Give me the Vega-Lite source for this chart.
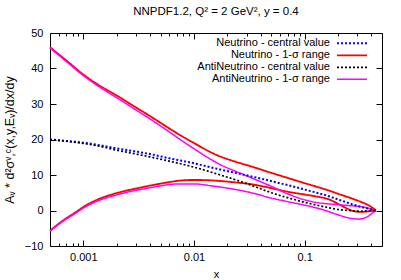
{
  "$schema": "https://vega.github.io/schema/vega-lite/v6.json",
  "width": 332,
  "height": 213,
  "autosize": {"type": "none"},
  "padding": {"left": 50, "top": 33, "right": 19, "bottom": 34},
  "background": "white",
  "config": {
    "font": "Liberation Sans",
    "view": {"stroke": "black", "strokeWidth": 1},
    "axis": {
      "labelFont": "Liberation Sans", "labelFontSize": 11, "labelColor": "black",
      "titleFont": "Liberation Sans", "titleFontSize": 11, "titleFontWeight": "normal", "titleColor": "black",
      "domain": false, "grid": false, "tickColor": "black", "tickWidth": 1
    },
    "legend": {
      "orient": "none", "legendX": 296.5, "legendY": 4.8, "padding": 0,
      "title": null, "symbolType": "M-3.33,0H3.33", "symbolSize": 81, "rowPadding": 0,
      "labelAlign": "right", "labelOffset": -27.5, "labelFont": "Liberation Sans", "labelFontSize": 11,
      "labelColor": "black", "labelLimit": 300
    }
  },
  "title": {"text": "NNPDF1.2, Q² = 2 GeV², y = 0.4", "font": "Liberation Sans", "fontSize": 11.5, "fontWeight": "normal", "color": "black", "offset": 10, "anchor": "middle"},
  "data": {"values": [
    {"x":0.0005,"v":46.0,"s":"Neutrino - 1-σ range","b":"upper"},
    {"x":0.0007,"v":42.3,"s":"Neutrino - 1-σ range","b":"upper"},
    {"x":0.001,"v":38.3,"s":"Neutrino - 1-σ range","b":"upper"},
    {"x":0.0014,"v":35.2,"s":"Neutrino - 1-σ range","b":"upper"},
    {"x":0.002,"v":32.4,"s":"Neutrino - 1-σ range","b":"upper"},
    {"x":0.003,"v":29.0,"s":"Neutrino - 1-σ range","b":"upper"},
    {"x":0.004,"v":26.6,"s":"Neutrino - 1-σ range","b":"upper"},
    {"x":0.006,"v":23.1,"s":"Neutrino - 1-σ range","b":"upper"},
    {"x":0.008,"v":20.7,"s":"Neutrino - 1-σ range","b":"upper"},
    {"x":0.01,"v":19.0,"s":"Neutrino - 1-σ range","b":"upper"},
    {"x":0.012,"v":17.6,"s":"Neutrino - 1-σ range","b":"upper"},
    {"x":0.014,"v":16.5,"s":"Neutrino - 1-σ range","b":"upper"},
    {"x":0.0173,"v":15.2,"s":"Neutrino - 1-σ range","b":"upper"},
    {"x":0.02,"v":14.5,"s":"Neutrino - 1-σ range","b":"upper"},
    {"x":0.024,"v":13.7,"s":"Neutrino - 1-σ range","b":"upper"},
    {"x":0.033,"v":12.4,"s":"Neutrino - 1-σ range","b":"upper"},
    {"x":0.05,"v":10.6,"s":"Neutrino - 1-σ range","b":"upper"},
    {"x":0.07,"v":9.2,"s":"Neutrino - 1-σ range","b":"upper"},
    {"x":0.1,"v":7.7,"s":"Neutrino - 1-σ range","b":"upper"},
    {"x":0.125,"v":6.8,"s":"Neutrino - 1-σ range","b":"upper"},
    {"x":0.17,"v":5.5,"s":"Neutrino - 1-σ range","b":"upper"},
    {"x":0.21,"v":4.5,"s":"Neutrino - 1-σ range","b":"upper"},
    {"x":0.25,"v":3.7,"s":"Neutrino - 1-σ range","b":"upper"},
    {"x":0.3,"v":2.8,"s":"Neutrino - 1-σ range","b":"upper"},
    {"x":0.355,"v":1.9,"s":"Neutrino - 1-σ range","b":"upper"},
    {"x":0.4,"v":1.0,"s":"Neutrino - 1-σ range","b":"upper"},
    {"x":0.44,"v":0.0,"s":"Neutrino - 1-σ range","b":"upper"},
    {"x":0.0005,"v":-5.7,"s":"Neutrino - 1-σ range","b":"lower"},
    {"x":0.0006,"v":-3.7,"s":"Neutrino - 1-σ range","b":"lower"},
    {"x":0.0007,"v":-2.2,"s":"Neutrino - 1-σ range","b":"lower"},
    {"x":0.00085,"v":-0.5,"s":"Neutrino - 1-σ range","b":"lower"},
    {"x":0.001,"v":1.0,"s":"Neutrino - 1-σ range","b":"lower"},
    {"x":0.0014,"v":3.3,"s":"Neutrino - 1-σ range","b":"lower"},
    {"x":0.002,"v":4.9,"s":"Neutrino - 1-σ range","b":"lower"},
    {"x":0.003,"v":6.2,"s":"Neutrino - 1-σ range","b":"lower"},
    {"x":0.004,"v":7.0,"s":"Neutrino - 1-σ range","b":"lower"},
    {"x":0.006,"v":8.0,"s":"Neutrino - 1-σ range","b":"lower"},
    {"x":0.0073,"v":8.4,"s":"Neutrino - 1-σ range","b":"lower"},
    {"x":0.01,"v":8.6,"s":"Neutrino - 1-σ range","b":"lower"},
    {"x":0.014,"v":8.5,"s":"Neutrino - 1-σ range","b":"lower"},
    {"x":0.0173,"v":8.3,"s":"Neutrino - 1-σ range","b":"lower"},
    {"x":0.024,"v":7.9,"s":"Neutrino - 1-σ range","b":"lower"},
    {"x":0.033,"v":7.4,"s":"Neutrino - 1-σ range","b":"lower"},
    {"x":0.05,"v":6.3,"s":"Neutrino - 1-σ range","b":"lower"},
    {"x":0.07,"v":5.3,"s":"Neutrino - 1-σ range","b":"lower"},
    {"x":0.1,"v":4.5,"s":"Neutrino - 1-σ range","b":"lower"},
    {"x":0.125,"v":4.0,"s":"Neutrino - 1-σ range","b":"lower"},
    {"x":0.17,"v":3.0,"s":"Neutrino - 1-σ range","b":"lower"},
    {"x":0.2,"v":1.9,"s":"Neutrino - 1-σ range","b":"lower"},
    {"x":0.23,"v":0.9,"s":"Neutrino - 1-σ range","b":"lower"},
    {"x":0.28,"v":-0.2,"s":"Neutrino - 1-σ range","b":"lower"},
    {"x":0.33,"v":-0.4,"s":"Neutrino - 1-σ range","b":"lower"},
    {"x":0.38,"v":-0.2,"s":"Neutrino - 1-σ range","b":"lower"},
    {"x":0.44,"v":0.0,"s":"Neutrino - 1-σ range","b":"lower"},
    {"x":0.0005,"v":45.8,"s":"AntiNeutrino - 1-σ range","b":"upper"},
    {"x":0.0007,"v":42.0,"s":"AntiNeutrino - 1-σ range","b":"upper"},
    {"x":0.001,"v":38.0,"s":"AntiNeutrino - 1-σ range","b":"upper"},
    {"x":0.0014,"v":34.8,"s":"AntiNeutrino - 1-σ range","b":"upper"},
    {"x":0.002,"v":31.8,"s":"AntiNeutrino - 1-σ range","b":"upper"},
    {"x":0.003,"v":28.3,"s":"AntiNeutrino - 1-σ range","b":"upper"},
    {"x":0.004,"v":25.8,"s":"AntiNeutrino - 1-σ range","b":"upper"},
    {"x":0.006,"v":22.1,"s":"AntiNeutrino - 1-σ range","b":"upper"},
    {"x":0.008,"v":19.4,"s":"AntiNeutrino - 1-σ range","b":"upper"},
    {"x":0.01,"v":17.4,"s":"AntiNeutrino - 1-σ range","b":"upper"},
    {"x":0.014,"v":14.5,"s":"AntiNeutrino - 1-σ range","b":"upper"},
    {"x":0.0173,"v":12.9,"s":"AntiNeutrino - 1-σ range","b":"upper"},
    {"x":0.024,"v":11.0,"s":"AntiNeutrino - 1-σ range","b":"upper"},
    {"x":0.033,"v":9.2,"s":"AntiNeutrino - 1-σ range","b":"upper"},
    {"x":0.04,"v":8.1,"s":"AntiNeutrino - 1-σ range","b":"upper"},
    {"x":0.05,"v":6.8,"s":"AntiNeutrino - 1-σ range","b":"upper"},
    {"x":0.07,"v":4.7,"s":"AntiNeutrino - 1-σ range","b":"upper"},
    {"x":0.1,"v":3.0,"s":"AntiNeutrino - 1-σ range","b":"upper"},
    {"x":0.125,"v":2.3,"s":"AntiNeutrino - 1-σ range","b":"upper"},
    {"x":0.154,"v":1.95,"s":"AntiNeutrino - 1-σ range","b":"upper"},
    {"x":0.2,"v":1.65,"s":"AntiNeutrino - 1-σ range","b":"upper"},
    {"x":0.25,"v":1.4,"s":"AntiNeutrino - 1-σ range","b":"upper"},
    {"x":0.3,"v":1.2,"s":"AntiNeutrino - 1-σ range","b":"upper"},
    {"x":0.36,"v":0.8,"s":"AntiNeutrino - 1-σ range","b":"upper"},
    {"x":0.4,"v":0.4,"s":"AntiNeutrino - 1-σ range","b":"upper"},
    {"x":0.44,"v":0.0,"s":"AntiNeutrino - 1-σ range","b":"upper"},
    {"x":0.0005,"v":-5.8,"s":"AntiNeutrino - 1-σ range","b":"lower"},
    {"x":0.0006,"v":-3.9,"s":"AntiNeutrino - 1-σ range","b":"lower"},
    {"x":0.0007,"v":-2.4,"s":"AntiNeutrino - 1-σ range","b":"lower"},
    {"x":0.00085,"v":-0.8,"s":"AntiNeutrino - 1-σ range","b":"lower"},
    {"x":0.001,"v":0.7,"s":"AntiNeutrino - 1-σ range","b":"lower"},
    {"x":0.0014,"v":2.9,"s":"AntiNeutrino - 1-σ range","b":"lower"},
    {"x":0.002,"v":4.4,"s":"AntiNeutrino - 1-σ range","b":"lower"},
    {"x":0.003,"v":5.7,"s":"AntiNeutrino - 1-σ range","b":"lower"},
    {"x":0.004,"v":6.4,"s":"AntiNeutrino - 1-σ range","b":"lower"},
    {"x":0.006,"v":7.3,"s":"AntiNeutrino - 1-σ range","b":"lower"},
    {"x":0.0073,"v":7.5,"s":"AntiNeutrino - 1-σ range","b":"lower"},
    {"x":0.01,"v":7.5,"s":"AntiNeutrino - 1-σ range","b":"lower"},
    {"x":0.014,"v":7.0,"s":"AntiNeutrino - 1-σ range","b":"lower"},
    {"x":0.0173,"v":6.6,"s":"AntiNeutrino - 1-σ range","b":"lower"},
    {"x":0.024,"v":5.9,"s":"AntiNeutrino - 1-σ range","b":"lower"},
    {"x":0.033,"v":5.0,"s":"AntiNeutrino - 1-σ range","b":"lower"},
    {"x":0.05,"v":3.5,"s":"AntiNeutrino - 1-σ range","b":"lower"},
    {"x":0.07,"v":2.5,"s":"AntiNeutrino - 1-σ range","b":"lower"},
    {"x":0.1,"v":1.5,"s":"AntiNeutrino - 1-σ range","b":"lower"},
    {"x":0.125,"v":0.8,"s":"AntiNeutrino - 1-σ range","b":"lower"},
    {"x":0.154,"v":0.0,"s":"AntiNeutrino - 1-σ range","b":"lower"},
    {"x":0.2,"v":-1.2,"s":"AntiNeutrino - 1-σ range","b":"lower"},
    {"x":0.25,"v":-2.1,"s":"AntiNeutrino - 1-σ range","b":"lower"},
    {"x":0.3,"v":-2.4,"s":"AntiNeutrino - 1-σ range","b":"lower"},
    {"x":0.34,"v":-2.2,"s":"AntiNeutrino - 1-σ range","b":"lower"},
    {"x":0.38,"v":-1.5,"s":"AntiNeutrino - 1-σ range","b":"lower"},
    {"x":0.41,"v":-0.7,"s":"AntiNeutrino - 1-σ range","b":"lower"},
    {"x":0.44,"v":0.0,"s":"AntiNeutrino - 1-σ range","b":"lower"},
    {"x":0.0005,"v":20.0,"s":"Neutrino - central value","b":"c"},
    {"x":0.0007,"v":19.6,"s":"Neutrino - central value","b":"c"},
    {"x":0.001,"v":19.1,"s":"Neutrino - central value","b":"c"},
    {"x":0.0014,"v":18.4,"s":"Neutrino - central value","b":"c"},
    {"x":0.002,"v":17.5,"s":"Neutrino - central value","b":"c"},
    {"x":0.003,"v":16.6,"s":"Neutrino - central value","b":"c"},
    {"x":0.004,"v":15.9,"s":"Neutrino - central value","b":"c"},
    {"x":0.006,"v":14.7,"s":"Neutrino - central value","b":"c"},
    {"x":0.01,"v":13.3,"s":"Neutrino - central value","b":"c"},
    {"x":0.014,"v":12.2,"s":"Neutrino - central value","b":"c"},
    {"x":0.02,"v":11.1,"s":"Neutrino - central value","b":"c"},
    {"x":0.028,"v":10.1,"s":"Neutrino - central value","b":"c"},
    {"x":0.04,"v":9.0,"s":"Neutrino - central value","b":"c"},
    {"x":0.056,"v":7.9,"s":"Neutrino - central value","b":"c"},
    {"x":0.08,"v":6.7,"s":"Neutrino - central value","b":"c"},
    {"x":0.1,"v":5.9,"s":"Neutrino - central value","b":"c"},
    {"x":0.125,"v":5.1,"s":"Neutrino - central value","b":"c"},
    {"x":0.17,"v":3.9,"s":"Neutrino - central value","b":"c"},
    {"x":0.21,"v":2.9,"s":"Neutrino - central value","b":"c"},
    {"x":0.25,"v":2.1,"s":"Neutrino - central value","b":"c"},
    {"x":0.3,"v":1.3,"s":"Neutrino - central value","b":"c"},
    {"x":0.355,"v":0.7,"s":"Neutrino - central value","b":"c"},
    {"x":0.4,"v":0.3,"s":"Neutrino - central value","b":"c"},
    {"x":0.44,"v":0.0,"s":"Neutrino - central value","b":"c"},
    {"x":0.0005,"v":20.0,"s":"AntiNeutrino - central value","b":"c"},
    {"x":0.0007,"v":19.5,"s":"AntiNeutrino - central value","b":"c"},
    {"x":0.001,"v":18.9,"s":"AntiNeutrino - central value","b":"c"},
    {"x":0.0014,"v":18.1,"s":"AntiNeutrino - central value","b":"c"},
    {"x":0.002,"v":17.0,"s":"AntiNeutrino - central value","b":"c"},
    {"x":0.003,"v":15.9,"s":"AntiNeutrino - central value","b":"c"},
    {"x":0.004,"v":15.1,"s":"AntiNeutrino - central value","b":"c"},
    {"x":0.006,"v":13.9,"s":"AntiNeutrino - central value","b":"c"},
    {"x":0.01,"v":12.2,"s":"AntiNeutrino - central value","b":"c"},
    {"x":0.014,"v":10.9,"s":"AntiNeutrino - central value","b":"c"},
    {"x":0.0173,"v":10.0,"s":"AntiNeutrino - central value","b":"c"},
    {"x":0.024,"v":8.6,"s":"AntiNeutrino - central value","b":"c"},
    {"x":0.033,"v":7.1,"s":"AntiNeutrino - central value","b":"c"},
    {"x":0.04,"v":6.1,"s":"AntiNeutrino - central value","b":"c"},
    {"x":0.05,"v":5.0,"s":"AntiNeutrino - central value","b":"c"},
    {"x":0.065,"v":3.9,"s":"AntiNeutrino - central value","b":"c"},
    {"x":0.08,"v":3.1,"s":"AntiNeutrino - central value","b":"c"},
    {"x":0.1,"v":2.3,"s":"AntiNeutrino - central value","b":"c"},
    {"x":0.125,"v":1.6,"s":"AntiNeutrino - central value","b":"c"},
    {"x":0.17,"v":0.7,"s":"AntiNeutrino - central value","b":"c"},
    {"x":0.21,"v":0.2,"s":"AntiNeutrino - central value","b":"c"},
    {"x":0.25,"v":0.0,"s":"AntiNeutrino - central value","b":"c"},
    {"x":0.32,"v":-0.2,"s":"AntiNeutrino - central value","b":"c"},
    {"x":0.38,"v":-0.1,"s":"AntiNeutrino - central value","b":"c"},
    {"x":0.44,"v":0.0,"s":"AntiNeutrino - central value","b":"c"}
  ]},
  "layer": [
    {
      "mark": {"type": "line", "interpolate": "monotone"},
      "encoding": {
        "x": {
          "field": "x", "type": "quantitative",
          "scale": {"type": "log", "domain": [0.0005, 0.5], "nice": false},
          "axis": {
            "orient": "bottom", "title": "x", "titlePadding": 6,
            "values": [0.0006,0.0007,0.0008,0.0009,0.001,0.002,0.003,0.004,0.005,0.006,0.007,0.008,0.009,0.01,0.02,0.03,0.04,0.05,0.06,0.07,0.08,0.09,0.1,0.2,0.3,0.4],
            "labelExpr": "datum.value == 0.001 ? '0.001' : datum.value == 0.01 ? '0.01' : datum.value == 0.1 ? '0.1' : ''",
            "tickSize": {"condition": {"test": "datum.value == 0.001 || datum.value == 0.01 || datum.value == 0.1", "value": -6}, "value": -3},
            "labelPadding": 11, "labelFlush": false
          }
        },
        "y": {
          "field": "v", "type": "quantitative",
          "scale": {"domain": [-10, 50], "nice": false, "zero": false},
          "axis": {
            "orient": "left", "title": "Aᵥ * d²σᵛ,ᶜ(x,y,Eᵥ)/dx/dy", "titlePadding": 8, "titleFontSize": 12.5,
            "values": [-10, 0, 10, 20, 30, 40, 50],
            "tickSize": -6, "labelPadding": 13
          }
        },
        "color": {
          "field": "s", "type": "nominal",
          "scale": {
            "domain": ["Neutrino - central value", "Neutrino - 1-σ range", "AntiNeutrino - central value", "AntiNeutrino - 1-σ range"],
            "range": ["#0000ff", "#ff0000", "#000000", "#ff00ff"]
          },
          "legend": {}
        },
        "strokeDash": {
          "field": "s", "type": "nominal",
          "scale": {
            "domain": ["Neutrino - central value", "Neutrino - 1-σ range", "AntiNeutrino - central value", "AntiNeutrino - 1-σ range"],
            "range": [[2, 2], [1, 0], [2, 2], [1, 0]]
          }
        },
        "strokeWidth": {
          "field": "s", "type": "nominal",
          "scale": {
            "domain": ["Neutrino - central value", "Neutrino - 1-σ range", "AntiNeutrino - central value", "AntiNeutrino - 1-σ range"],
            "range": [2, 1.5, 2, 1.5]
          }
        },
        "detail": {"field": "b", "type": "nominal"}
      }
    },
    {
      "mark": {"type": "line", "opacity": 0},
      "encoding": {
        "x": {
          "field": "x", "type": "quantitative",
          "axis": {
            "orient": "top", "title": null, "labels": false,
            "values": [0.0006,0.0007,0.0008,0.0009,0.001,0.002,0.003,0.004,0.005,0.006,0.007,0.008,0.009,0.01,0.02,0.03,0.04,0.05,0.06,0.07,0.08,0.09,0.1,0.2,0.3,0.4],
            "tickSize": {"condition": {"test": "datum.value == 0.001 || datum.value == 0.01 || datum.value == 0.1", "value": -6}, "value": -3}
          }
        },
        "y": {
          "field": "v", "type": "quantitative",
          "axis": {"orient": "right", "title": null, "labels": false, "values": [-10, 0, 10, 20, 30, 40, 50], "tickSize": -6}
        },
        "detail": {"field": "s", "type": "nominal"}
      }
    }
  ],
  "resolve": {"axis": {"x": "independent", "y": "independent"}}
}
